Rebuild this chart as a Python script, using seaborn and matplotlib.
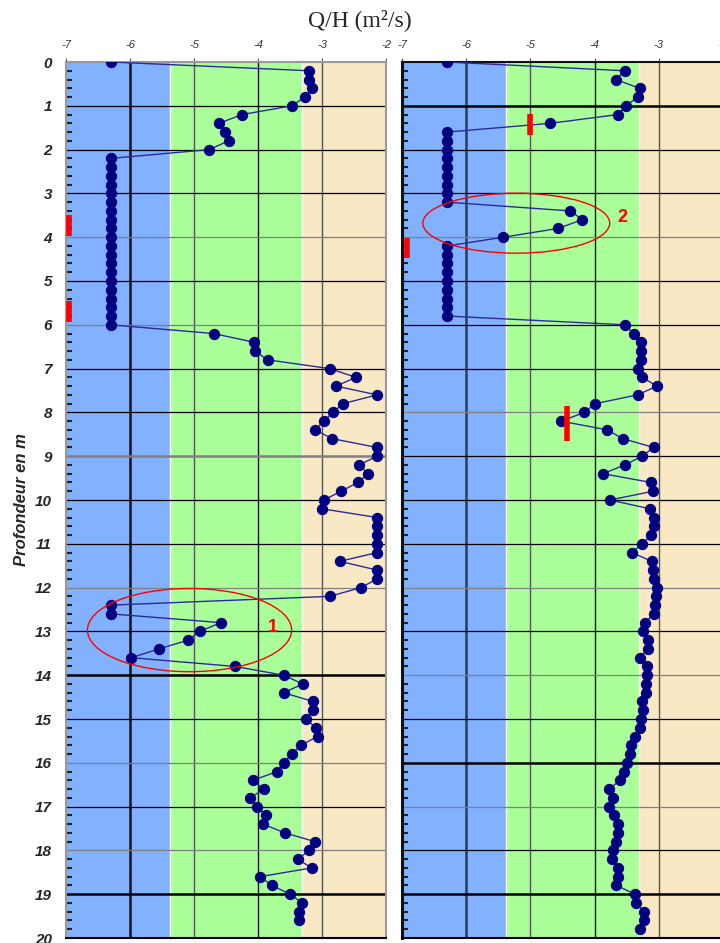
import numpy as np
import matplotlib
matplotlib.use("Agg")
import matplotlib.pyplot as plt
from matplotlib.patches import Ellipse
from matplotlib.ticker import MultipleLocator
import seaborn as sns

# Q/H readings every 0.2 m, left and right boreholes
DEPTH_STEP = 0.2

qh_left = [
    -6.30, -3.20, -3.20, -3.15, -3.27, -3.47, -4.25, -4.61, -4.52, -4.46, -4.76,
    -6.30, -6.30, -6.30, -6.30, -6.30, -6.30, -6.30, -6.30, -6.30, -6.30,
    -6.30, -6.30, -6.30, -6.30, -6.30, -6.30, -6.30, -6.30, -6.30, -6.30,
    -4.69, -4.06, -4.05, -3.85, -2.88, -2.47, -2.78, -2.14, -2.67, -2.83,
    -2.97, -3.11, -2.84, -2.14, -2.14, -2.42, -2.28, -2.44, -2.70, -2.97,
    -3.00, -2.14, -2.14, -2.14, -2.14, -2.14, -2.72, -2.14, -2.14, -2.39,
    -2.88, -6.30, -6.30, -4.58, -4.91, -5.09, -5.55, -5.98, -4.36, -3.60,
    -3.30, -3.60, -3.14, -3.14, -3.25, -3.10, -3.07, -3.33, -3.47, -3.60,
    -3.70, -4.08, -3.91, -4.12, -4.02, -3.87, -3.92, -3.58, -3.11, -3.20,
    -3.38, -3.16, -3.97, -3.78, -3.50, -3.31, -3.36, -3.36,
]

qh_right = [
    -6.30, -3.53, -3.67, -3.30, -3.33, -3.51, -3.64, -4.69,
    -6.30, -6.30, -6.30, -6.30, -6.30, -6.30, -6.30, -6.30, -6.30,
    -4.38, -4.19, -4.57, -5.42,
    -6.30, -6.30, -6.30, -6.30, -6.30, -6.30, -6.30, -6.30, -6.30,
    -3.53, -3.39, -3.28, -3.28, -3.28, -3.33, -3.26, -3.03, -3.33, -3.99,
    -4.16, -4.52, -3.80, -3.56, -3.08, -3.26, -3.53, -3.87, -3.12, -3.09,
    -3.76, -3.14, -3.08, -3.08, -3.12, -3.26, -3.42, -3.11, -3.09, -3.08,
    -3.03, -3.05, -3.06, -3.07, -3.22, -3.25, -3.17, -3.17, -3.30, -3.19,
    -3.19, -3.20, -3.20, -3.26, -3.25, -3.28, -3.30, -3.37, -3.43, -3.45,
    -3.50, -3.54, -3.60, -3.78, -3.71, -3.78, -3.70, -3.64, -3.64, -3.67,
    -3.71, -3.73, -3.64, -3.64, -3.66, -3.37, -3.35, -3.23, -3.23, -3.30,
]

# red marks: (x, depth top, depth bottom)
marks_left = [(-6.95, 3.5, 3.97), (-6.95, 5.46, 5.94)]
marks_right = [(-5.0, 1.19, 1.67), (-6.92, 4.02, 4.48), (-4.43, 7.85, 8.65)]

# circled zones: (centre x, centre depth, width, height, label, label x, label depth)
zone_left = (-5.07, 12.97, 3.19, 1.9, "1", -3.77, 12.9)
zone_right = (-5.22, 3.68, 2.91, 1.37, "2", -3.57, 3.55)

bands = [(-7, -5.38, "#82b1ff"), (-5.38, -3.31, "#aaff99"), (-3.31, -2, "#f9e8c4")]

sns.set_style("white")
plt.rcParams["font.family"] = ["Liberation Sans", "DejaVu Sans"]

fig = plt.figure(figsize=(7.2, 9.43), dpi=100)
ax_l = fig.add_axes([66 / 720, 1 - 938 / 943, 320 / 720, 876 / 943])
ax_r = fig.add_axes([402 / 720, 1 - 938 / 943, 321 / 720, 876 / 943])


def draw_panel(ax, vals, marks, zone, spine_col, hthick, hgray, col6):
    depth = np.round(np.arange(len(vals)) * DEPTH_STEP, 1)
    for x0, x1, c in bands:
        ax.axvspan(x0, x1, color=c, lw=0, zorder=0)
    for x in [-5.38, -3.31]:
        ax.axvline(x, color="#f4fbf0", lw=1.0, zorder=0.5)
    for x in [-6, -5, -4, -3]:
        c = col6 if x == -6 else ("#111111" if x == -4 else "#555555")
        ax.axvline(x, color=c, lw=1.8 if x == -6 else 1.0, zorder=1)
    for d in range(1, 20):
        col = "#808080" if d in hgray else "black"
        ax.axhline(d, color=col, lw=1.8 if d in hthick else 0.9, zorder=1)

    sns.lineplot(x=vals, y=depth, sort=False, estimator=None, ax=ax,
                 color="#2a2a9a", lw=1.0, marker="o", markersize=7.4,
                 markerfacecolor="#000080", markeredgecolor="#000080", zorder=3)

    for x, d0, d1 in marks:
        ax.plot([x, x], [d0, d1], color="red", lw=4, solid_capstyle="butt", zorder=4)
    cx, cy, w, h, lab, lx, ly = zone
    ax.add_patch(Ellipse((cx, cy), w, h, fill=False, edgecolor="red", lw=1.0, zorder=4))
    ax.text(lx, ly, lab, color="red", fontsize=13, fontweight="bold",
            ha="center", va="center", zorder=5)

    ax.set_xlim(-7, -2)
    ax.set_ylim(20, 0)
    ax.set_xlabel("")
    ax.set_ylabel("")
    ax.xaxis.tick_top()
    ax.set_xticks([-7, -6, -5, -4, -3, -2])
    ax.set_xticklabels(["-7", "-6", "-5", "-4", "-3", "-2"])
    ax.tick_params(axis="x", top=True, length=3, pad=6, labelsize=8,
                   labelcolor="#333333", color="#555555")
    for t in ax.get_xticklabels():
        t.set_style("italic")
    ax.set_yticks(range(0, 21))
    ax.yaxis.set_minor_locator(MultipleLocator(0.2))
    ax.tick_params(axis="y", which="minor", direction="in", length=4, width=1.5,
                   color="#222222", left=True)
    for s in ax.spines.values():
        s.set_color(spine_col)
        s.set_linewidth(1.5)
    ax.spines["bottom"].set_color("black")


draw_panel(ax_l, qh_left, marks_left, zone_left, "#999999",
           hthick=[9, 14, 19], hgray=[4, 6, 9, 12, 16, 18], col6="#111111")
draw_panel(ax_r, qh_right, marks_right, zone_right, "#111111",
           hthick=[1, 16, 19], hgray=[4, 8, 12, 14, 17], col6="#2e3b55")

ax_l.tick_params(axis="y", which="major", length=0, pad=10, labelsize=11)
for t in ax_l.get_yticklabels():
    t.set_fontweight("bold")
    t.set_style("italic")
ax_r.spines["left"].set_linewidth(2.2)
ax_r.tick_params(axis="y", which="major", length=5, width=1.2, direction="out",
                 labelleft=False, color="black")

fig.text(0.5, 1 - 20 / 943, "Q/H (m²/s)", family=["Liberation Serif", "DejaVu Serif"],
         fontsize=17, ha="center", va="center")
fig.text(22 / 720, 1 - 500 / 943, "Profondeur en m", rotation=90, fontsize=12,
         fontweight="bold", style="italic", ha="center", va="center")

fig.savefig("out.png", dpi=100)
